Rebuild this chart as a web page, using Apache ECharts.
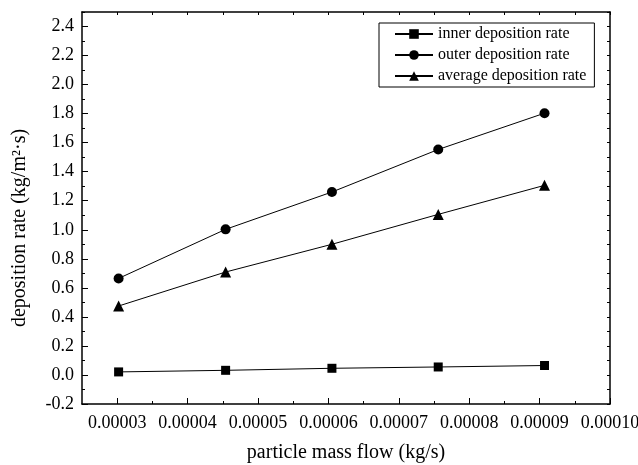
<!DOCTYPE html>
<html>
<head>
<meta charset="utf-8">
<script src="https://cdn.jsdelivr.net/npm/echarts@6/dist/echarts.min.js"></script>
<style>
html,body{margin:0;padding:0;background:#fff;}
#chart{width:638px;height:465px;}
</style>
</head>
<body>
<div id="chart"></div>
<script>
// ---- data ----
const massFlow = [0.0000302, 0.0000454, 0.0000605, 0.0000756, 0.0000907];
const innerRate = [0.021, 0.032, 0.046, 0.055, 0.065];
const outerRate = [0.665, 1.003, 1.260, 1.553, 1.803];
const averageRate = [0.475, 0.709, 0.900, 1.106, 1.306];
const seriesNames = ['inner deposition rate', 'outer deposition rate', 'average deposition rate'];
const xMajorTicks = [0.00003, 0.00004, 0.00005, 0.00006, 0.00007, 0.00008, 0.00009, 0.0001];
const xMinorTicks = [0.000035, 0.000045, 0.000055, 0.000065, 0.000075, 0.000085, 0.000095];
const yMajorTicks = [-0.2, 0, 0.2, 0.4, 0.6, 0.8, 1.0, 1.2, 1.4, 1.6, 1.8, 2.0, 2.2, 2.4];
const yMinorTicks = [-0.1, 0.1, 0.3, 0.5, 0.7, 0.9, 1.1, 1.3, 1.5, 1.7, 1.9, 2.1, 2.3, 2.5];
const xTitle = 'particle mass flow (kg/s)';
const yTitle = 'deposition rate (kg/m²·s)';

const FONT = '"Times New Roman", "Liberation Serif", serif';
const pair = (xs, ys) => xs.map((x, i) => [x, ys[i]]);
const allX = xMajorTicks.concat(xMinorTicks);
const allY = yMajorTicks.concat(yMinorTicks);

const chart = echarts.init(document.getElementById('chart'), null, {renderer: 'canvas'});
const lineStyle = {color: '#000', width: 1};
const axisLine = {show: true, onZero: false, lineStyle: {color: '#000', width: 1.5}};
const noLine = {show: false, onZero: false};

const option = {
  animation: false,
  backgroundColor: '#fff',
  grid: {left: 82, right: 28, top: 12, bottom: 61, outerBoundsMode: 'none'},
  legend: {
    orient: 'vertical',
    left: 379, top: 23,
    padding: [3, 8, 3, 15],
    itemGap: 5,
    itemWidth: 38, itemHeight: 12,
    borderColor: '#000', borderWidth: 1, borderRadius: 0,
    textStyle: {fontFamily: FONT, fontSize: 16, color: '#000'},
    data: seriesNames
  },
  xAxis: [
    {
      type: 'value', min: 0.000025, max: 0.0001, position: 'bottom',
      axisLine: axisLine,
      splitLine: {show: false},
      axisTick: {show: true, inside: true, length: 6, customValues: xMajorTicks, lineStyle: {color: '#000'}},
      axisLabel: {customValues: xMajorTicks, margin: 10, color: '#000', fontFamily: FONT, fontSize: 18,
        formatter: v => v.toFixed(5)},
      name: xTitle, nameLocation: 'middle', nameGap: 39,
      nameTextStyle: {fontFamily: FONT, fontSize: 20, color: '#000'}
    },
    {
      type: 'value', min: 0.000025, max: 0.0001, position: 'bottom',
      axisLine: noLine, splitLine: {show: false},
      axisTick: {show: true, inside: true, length: 3, customValues: xMinorTicks, lineStyle: {color: '#000'}},
      axisLabel: {show: false}
    },
    {
      type: 'value', min: 0.000025, max: 0.0001, position: 'top',
      axisLine: axisLine, splitLine: {show: false},
      axisTick: {show: true, inside: true, length: 3, customValues: allX, lineStyle: {color: '#000'}},
      axisLabel: {show: false}
    }
  ],
  yAxis: [
    {
      type: 'value', min: -0.2, max: 2.5, position: 'left',
      axisLine: axisLine, splitLine: {show: false},
      axisTick: {show: true, inside: true, length: 6, customValues: yMajorTicks, lineStyle: {color: '#000'}},
      axisLabel: {customValues: yMajorTicks, margin: 8, color: '#000', fontFamily: FONT, fontSize: 18,
        formatter: v => v.toFixed(1)},
      name: yTitle, nameLocation: 'middle', nameGap: 52,
      nameTextStyle: {fontFamily: FONT, fontSize: 20, color: '#000', padding: [0, 40, 0, 0]}
    },
    {
      type: 'value', min: -0.2, max: 2.5, position: 'left',
      axisLine: noLine, splitLine: {show: false},
      axisTick: {show: true, inside: true, length: 3, customValues: yMinorTicks, lineStyle: {color: '#000'}},
      axisLabel: {show: false}
    },
    {
      type: 'value', min: -0.2, max: 2.5, position: 'right',
      axisLine: axisLine, splitLine: {show: false},
      axisTick: {show: true, inside: true, length: 3, customValues: allY, lineStyle: {color: '#000'}},
      axisLabel: {show: false}
    }
  ],
  series: [
    {name: seriesNames[0], type: 'line', data: pair(massFlow, innerRate), symbol: 'rect', symbolSize: 9,
      itemStyle: {color: '#000'}, lineStyle: lineStyle},
    {name: seriesNames[1], type: 'line', data: pair(massFlow, outerRate), symbol: 'circle', symbolSize: 10,
      itemStyle: {color: '#000'}, lineStyle: lineStyle},
    {name: seriesNames[2], type: 'line', data: pair(massFlow, averageRate), symbol: 'triangle', symbolSize: 11,
      itemStyle: {color: '#000'}, lineStyle: lineStyle}
  ]
};
chart.setOption(option);
</script>
</body>
</html>
